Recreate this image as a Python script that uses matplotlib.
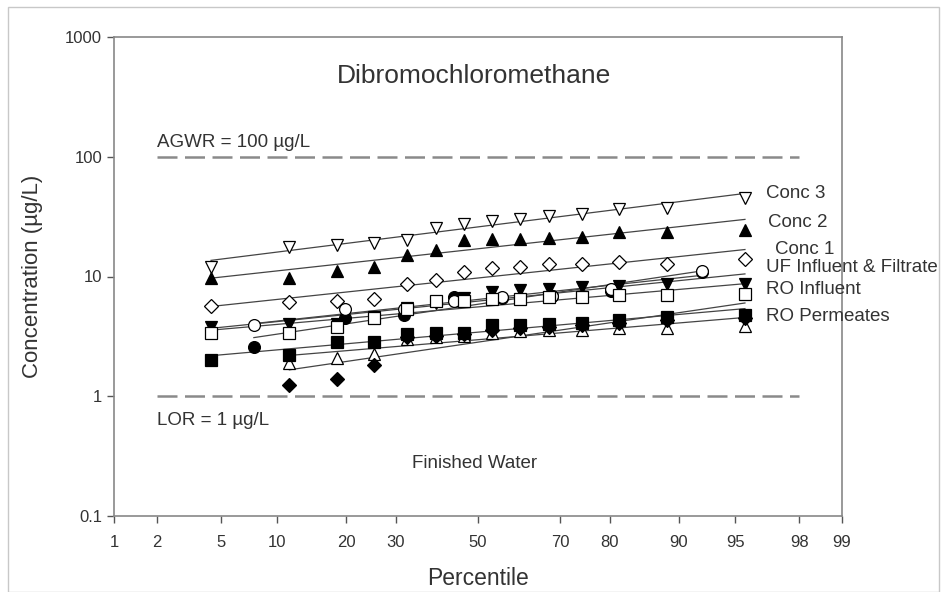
#!/usr/bin/env python3
# Dibromochloromethane probability plot (percentile vs concentration)
from statistics import NormalDist
import numpy as np
import matplotlib
matplotlib.use('Agg')
import matplotlib.pyplot as plt
from matplotlib.patches import Rectangle

plt.rcParams['font.family'] = ['Liberation Sans', 'DejaVu Sans']

# plotting positions (percentile)
pct14 = [4.4, 11.4, 18.4, 25.4, 32.5, 39.5, 46.5, 53.5, 60.5, 67.5, 74.6, 81.6, 88.6, 95.6]
pct8 = [7.6, 19.7, 31.8, 43.9, 56.1, 68.2, 80.3, 92.4]

# concentrations (ug/L), None = not plotted
conc3 = [11.9, 17.5, 18.5, 19.2, 20.0, 25.6, 27.7, 29.3, 30.4, 32.2, 33.5, 36.9, 37.6, 45.0]
conc2 = [9.8, 9.8, 11.2, 12.1, 15.0, 16.5, 20.3, 20.5, 20.7, 21.1, 21.5, 23.7, 23.7, 24.6]
conc1 = [5.7, 6.1, 6.3, 6.5, 8.7, 9.4, 10.8, 11.7, 11.9, 12.6, 12.8, 13.1, 12.8, 14.1]
uf_inf = [2.56, 4.47, 4.8, 6.7, 6.6, 6.9, 7.6, 11.0]
uf_filt = [3.9, 5.4, 5.4, 6.3, 6.7, 6.9, 7.9, 11.2]
ro_inf_a = [3.76, 3.98, 4.0, 4.6, 5.5, 6.0, 6.6, 7.36, 7.65, 7.8, 8.1, 8.4, 8.6, 8.6]
ro_inf_b = [3.4, 3.4, 3.76, 4.47, 5.4, 6.2, 6.3, 6.55, 6.55, 6.7, 6.8, 6.95, 6.95, 7.2]
ro_perm_a = [2.0, 2.2, 2.82, 2.82, 3.3, 3.4, 3.4, 3.9, 3.9, 3.98, 4.1, 4.3, 4.55, 4.8]
ro_perm_b = [None, 1.23, 1.39, 1.81, 3.1, 3.2, 3.3, 3.6, 3.7, 3.8, 3.9, 4.1, 4.3, 4.5]
ro_perm_c = [None, 1.88, 2.07, 2.24, 3.0, 3.1, 3.2, 3.4, 3.5, 3.55, 3.6, 3.7, 3.75, 3.85]

xticks = [1, 2, 5, 10, 20, 30, 50, 70, 80, 90, 95, 98, 99]
yticks = [0.1, 1, 10, 100, 1000]
agwr = 100
lor = 1

nd = NormalDist()
_ppf = np.vectorize(lambda v: nd.inv_cdf(v / 100.0), otypes=[float])
_cdf = np.vectorize(lambda v: nd.cdf(v) * 100.0, otypes=[float])

def fwd(p):
    p = np.clip(np.asarray(p, dtype=float), 1e-6, 100 - 1e-6)
    return _ppf(p)

def inv(z):
    return _cdf(np.asarray(z, dtype=float))

fig = plt.figure(figsize=(9.42, 5.92), dpi=100)
ax = fig.add_axes([114/942, 1 - 516/592, (842 - 114)/942, (516 - 37)/592])
ax.set_xscale('function', functions=(fwd, inv))
ax.set_yscale('log')

# (x, y, marker, face)  -- SigmaPlot style symbols, drawn in plot order
series = [
    (pct8, uf_inf, 'o', 'black'),
    (pct8, uf_filt, 'o', 'white'),
    (pct14, ro_inf_a, 'v', 'black'),
    (pct14, ro_perm_c, '^', 'white'),
    (pct14, ro_perm_a, 's', 'black'),
    (pct14, ro_inf_b, 's', 'white'),
    (pct14, ro_perm_b, 'D', 'black'),
    (pct14, conc1, 'D', 'white'),
    (pct14, conc2, '^', 'black'),
    (pct14, conc3, 'v', 'white'),
]

for xs, ys, mk, fc in series:
    pts = [(x, y) for x, y in zip(xs, ys) if y is not None]
    px = np.array([p[0] for p in pts])
    py = np.array([p[1] for p in pts])
    # regression of log conc on normal score
    z = fwd(px)
    b, a = np.polyfit(z, np.log10(py), 1)
    zz = np.array([z.min(), z.max()])
    ax.plot(inv(zz), 10 ** (a + b * zz), color='#444444', lw=0.9, zorder=2)
    ms = 7.5 if mk == 'D' else 8.5
    ax.plot(px, py, ls='none', marker=mk, ms=ms, mfc=fc, mec='black', mew=0.9, zorder=3)

ax.plot([2, 98], [agwr, agwr], ls=(0, (8, 3)), color='#8a8a8a', lw=1.8, zorder=1)
ax.plot([2, 98], [lor, lor], ls=(0, (8, 3)), color='#8a8a8a', lw=1.8, zorder=1)

ax.set_xlim(1, 99)
ax.set_ylim(0.1, 1000)
ax.xaxis.set_major_locator(matplotlib.ticker.FixedLocator(xticks))
ax.xaxis.set_major_formatter(matplotlib.ticker.FixedFormatter([str(t) for t in xticks]))
ax.xaxis.set_minor_locator(matplotlib.ticker.NullLocator())
ax.yaxis.set_major_locator(matplotlib.ticker.FixedLocator(yticks))
ax.yaxis.set_major_formatter(matplotlib.ticker.FixedFormatter(['0.1', '1', '10', '100', '1000']))
ax.yaxis.set_minor_locator(matplotlib.ticker.NullLocator())
ax.tick_params(colors='#555555', labelcolor='#333333', labelsize=12, length=5, width=1)
ax.tick_params(axis='x', pad=9)
for s in ax.spines.values():
    s.set_color('#888888')
    s.set_linewidth(1.2)

ax.set_xlabel('Percentile', fontsize=16.5, color='#333333', labelpad=12)
ax.set_ylabel('Concentration (\u00b5g/L)', fontsize=16, color='#333333', labelpad=16)

tk = dict(color='#333333', transform=ax.transData)
ax.text(49, 470, 'Dibromochloromethane', fontsize=19, ha='center', va='center', **tk)
ax.text(2, 131, 'AGWR = 100 \u00b5g/L', fontsize=13.5, ha='left', va='center', **tk)
ax.text(2, 0.63, 'LOR = 1 \u00b5g/L', fontsize=13.5, ha='left', va='center', **tk)
ax.text(49, 0.275, 'Finished Water', fontsize=13.5, ha='center', va='center', **tk)
for lab, yv, xv in [('Conc 3', 49, 96.7), ('Conc 2', 28.2, 96.8), ('Conc 1', 16.8, 97.1),
                    ('UF Influent & Filtrate', 11.9, 96.7), ('RO Influent', 7.8, 96.7),
                    ('RO Permeates', 4.64, 96.7)]:
    ax.text(xv, yv, lab, fontsize=13.5, ha='left', va='center', clip_on=False, **tk)

fig.patches.append(Rectangle((8/942, 0), 931/942, 1 - 7/592, transform=fig.transFigure,
                             fill=False, ec='#c8c8c8', lw=1))

fig.savefig('out.png', dpi=100)
